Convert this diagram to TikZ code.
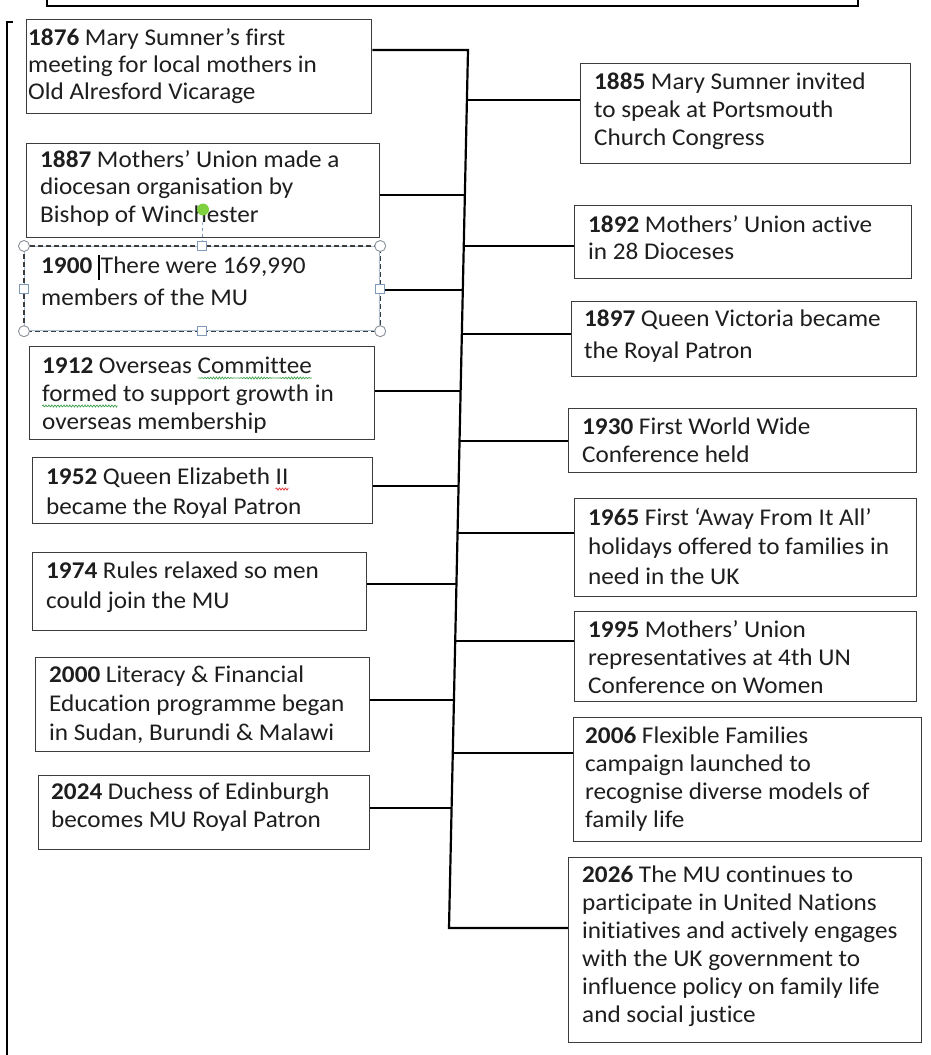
\documentclass[tikz,border=0pt]{standalone}
\usepackage{fontspec}
\setmainfont{Carlito}[Ligatures=NoCommon, FakeStretch=1.05]
\usetikzlibrary{calc}
\definecolor{boxgray}{HTML}{3C3C3C}
\definecolor{txt}{HTML}{1E1E1E}
\definecolor{selblue}{HTML}{A8BCD2}
\definecolor{handleedge}{HTML}{8A9099}
\definecolor{sqedge}{HTML}{7F9AB8}
\definecolor{rotgreen}{HTML}{7ED03E}
\definecolor{spellgreen}{HTML}{3FA34D}
\definecolor{spellred}{HTML}{E03030}
\newlength\squigw
\newcommand\squig[2]{\settowidth\squigw{#2}\rlap{\tikz[baseline=0pt,x=1pt,y=1pt]{\useasboundingbox (0,0);
  \draw[#1, line width=0.7pt] plot[domain=0:\squigw, samples=80] (\x,{-4.8+1.1*sin(\x*120)});}}#2}
\newcommand\cursorbar{\textcolor{black}{\rule[-7pt]{2pt}{25pt}}\kern1pt}
\tikzset{
  evbox/.style={draw=boxgray, line width=1.3pt, fill=white, inner sep=0pt, anchor=north west},
  evtext/.style={anchor=north west, inner sep=0pt, align=left, text=txt,
    font=\fontsize{24}{#1}\selectfont, yshift={0.7*#1}},
  evtext/.default=28,
  conn/.style={draw=black, line width=2.2pt},
  sq/.style={draw=sqedge, fill=white, line width=0.9pt, minimum size=9pt, inner sep=0pt},
}
\newcommand\evbox[5]{\node[evbox, minimum width={#4-#2}, minimum height={#5-#3}] (#1) at (#2,#3) {};}
\begin{document}
\begin{tikzpicture}[x=1pt,y=-1pt]
\useasboundingbox[fill=white] (0,0) rectangle (931,1055);
% frame pieces
\draw[line width=2pt, black] (47,-6) -- (47,6) -- (858,6) -- (858,-6);
\draw[line width=2.6pt, black] (13,22) -- (7,22) -- (7,1062);
% trunk junctions
\coordinate (j1876) at (468,50);
\coordinate (j1885) at (466.9,100);
\coordinate (j1887) at (464.9,195);
\coordinate (j1892) at (463.8,246);
\coordinate (j1900) at (462.8,290);
\coordinate (j1897) at (461.9,334);
\coordinate (j1912) at (460.6,391);
\coordinate (j1930) at (459.5,441);
\coordinate (j1952) at (458.6,486);
\coordinate (j1965) at (457.5,533);
\coordinate (j1974) at (456.4,584);
\coordinate (j1995) at (455.2,641);
\coordinate (j2000) at (453.9,700);
\coordinate (j2006) at (452.8,753);
\coordinate (j2024) at (451.6,808);
\coordinate (j2026) at (449,928);
% boxes
\evbox{b1876}{26}{19}{371}{113}
\evbox{b1887}{26}{143}{379}{237}
\node[draw=selblue, line width=1.2pt, fill=white, inner sep=0pt, anchor=north west,
  minimum width=355pt, minimum height=84pt] (b1900) at (24,246) {};
\evbox{b1912}{29}{346}{374}{439}
\evbox{b1952}{32}{457}{372}{523}
\evbox{b1974}{32}{552}{366}{630}
\evbox{b2000}{35}{657}{369}{751}
\evbox{b2024}{38}{775}{369}{849}
\evbox{b1885}{580}{63}{910}{163}
\evbox{b1892}{574}{205}{911}{278}
\evbox{b1897}{571}{301}{916}{376}
\evbox{b1930}{568}{408}{916}{472}
\evbox{b1965}{574}{498}{916}{596}
\evbox{b1995}{574}{611}{916}{701}
\evbox{b2006}{573}{717}{921}{841}
\evbox{b2026}{568}{857}{921}{1042}
% connectors
\draw[conn] (b1876.east |- j1876) -- (j1876) -- (j2026) -- (b2026.west |- j2026);
\draw[conn] (b1887.east |- j1887) -- (j1887);
\draw[conn] (b1900.east |- j1900) -- (j1900);
\draw[conn] (b1912.east |- j1912) -- (j1912);
\draw[conn] (b1952.east |- j1952) -- (j1952);
\draw[conn] (b1974.east |- j1974) -- (j1974);
\draw[conn] (b2000.east |- j2000) -- (j2000);
\draw[conn] (b2024.east |- j2024) -- (j2024);
\draw[conn] (j1885) -- (b1885.west |- j1885);
\draw[conn] (j1892) -- (b1892.west |- j1892);
\draw[conn] (j1897) -- (b1897.west |- j1897);
\draw[conn] (j1930) -- (b1930.west |- j1930);
\draw[conn] (j1965) -- (b1965.west |- j1965);
\draw[conn] (j1995) -- (b1995.west |- j1995);
\draw[conn] (j2006) -- (b2006.west |- j2006);
% texts
\node[evtext=27] (t1876) at (28,45) {\strut\textbf{1876} Mary Sumner’s first\\meeting for local mothers in\\Old Alresford Vicarage};
\node[evtext=27.5] (t1887) at (40,167) {\strut\textbf{1887} Mothers’ Union made a\\diocesan organisation by\\Bishop of Winchester};
\node[evtext=32] (t1900) at (41,273) {\strut\textbf{1900} \cursorbar There were 169,990\\members of the MU};
\node[evtext=28] (t1912) at (42,373) {\strut\textbf{1912} Overseas \squig{spellgreen}{Committee}\\\squig{spellgreen}{formed} to support growth in\\overseas membership};
\node[evtext=30] (t1952) at (46,484) {\strut\textbf{1952} Queen Elizabeth \squig{spellred}{II}\\became the Royal Patron};
\node[evtext=30] (t1974) at (46,578) {\strut\textbf{1974} Rules relaxed so men\\could join the MU};
\node[evtext=29] (t2000) at (49,682) {\strut\textbf{2000} Literacy \& Financial\\Education programme began\\in Sudan, Burundi \& Malawi};
\node[evtext=28] (t2024) at (51,799) {\strut\textbf{2024} Duchess of Edinburgh\\becomes MU Royal Patron};
\node[evtext=28] (t1885) at (594,89) {\strut\textbf{1885} Mary Sumner invited\\to speak at Portsmouth\\Church Congress};
\node[evtext=27] (t1892) at (588,232) {\strut\textbf{1892} Mothers’ Union active\\in 28 Dioceses};
\node[evtext=32] (t1897) at (584,326) {\strut\textbf{1897} Queen Victoria became\\the Royal Patron};
\node[evtext=28] (t1930) at (582,434) {\strut\textbf{1930} First World Wide\\Conference held};
\node[evtext=29.5] (t1965) at (588,525) {\strut\textbf{1965} First ‘Away From It All’\\holidays offered to families in\\need in the UK};
\node[evtext=28] (t1995) at (588,637) {\strut\textbf{1995} Mothers’ Union\\representatives at 4th UN\\Conference on Women};
\node[evtext=28] (t2006) at (585,743) {\strut\textbf{2006} Flexible Families\\campaign launched to\\recognise diverse models of\\family life};
\node[evtext=28] (t2026) at (582,882) {\strut\textbf{2026} The MU continues to\\participate in United Nations\\initiatives and actively engages\\with the UK government to\\influence policy on family life\\and social justice};
% selection frame of the 1900 box
\draw[boxgray, line width=1.2pt, dash pattern=on 5pt off 3pt] (b1900.north west) rectangle (b1900.south east);
\draw[sqedge, line width=0.8pt, dash pattern=on 3pt off 3pt] (203,216) -- (b1900.north);
\foreach \c in {north west, north east, south west, south east}
  \draw[handleedge, fill=white, line width=0.9pt] (b1900.\c) circle[radius=5.5pt];
\node[sq] (hn) at (b1900.north) {};
\node[sq] (hs) at (b1900.south) {};
\node[sq] (hw) at (b1900.west) {};
\node[sq] (he) at (b1900.east) {};
\fill[rotgreen] (203,209.5) circle[radius=6pt];
\end{tikzpicture}
\end{document}
